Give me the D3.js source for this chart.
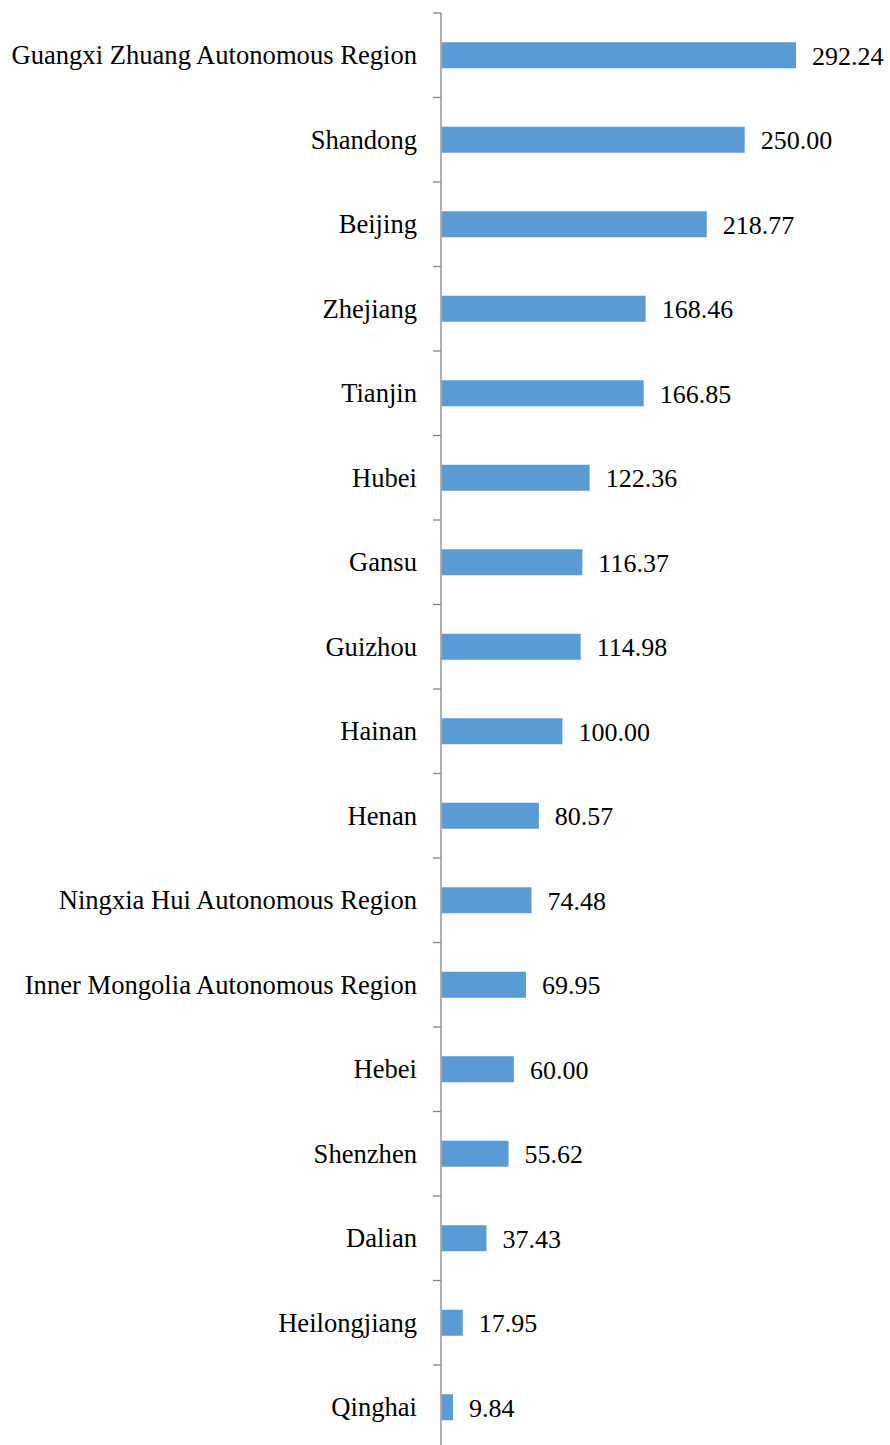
<!DOCTYPE html>
<html>
<head>
<meta charset="utf-8">
<script src="https://cdn.jsdelivr.net/npm/d3@7"></script>
<style>
  html, body { margin: 0; padding: 0; background: #fff; }
  svg { display: block; }
  text { font-family: "Liberation Serif", "Times New Roman", serif; fill: #000; }
</style>
</head>
<body>
<script>
const categories = [
  "Guangxi Zhuang Autonomous Region", "Shandong", "Beijing", "Zhejiang", "Tianjin",
  "Hubei", "Gansu", "Guizhou", "Hainan", "Henan",
  "Ningxia Hui Autonomous Region", "Inner Mongolia Autonomous Region", "Hebei",
  "Shenzhen", "Dalian", "Heilongjiang", "Qinghai"
];
const values = [292.24, 250.00, 218.77, 168.46, 166.85, 122.36, 116.37, 114.98, 100.00,
  80.57, 74.48, 69.95, 60.00, 55.62, 37.43, 17.95, 9.84];

const W = 890, H = 1445;
const axisX = 441, plotTop = 13, band = 84.5;
const barH = 26;
const fontSize = 26.6;

const svg = d3.select("body").append("svg").attr("width", W).attr("height", H);

const y = d3.scaleBand().domain(categories).range([plotTop, plotTop + band * categories.length]).padding(0);
const x = d3.scaleLinear().domain([0, 292.24]).range([axisX, 796]);

// axis line
svg.append("line")
  .attr("x1", axisX).attr("x2", axisX)
  .attr("y1", plotTop).attr("y2", H)
  .attr("stroke", "#868686").attr("stroke-width", 1.3);

// ticks at band boundaries
svg.selectAll("line.tick").data(categories).join("line")
  .attr("class", "tick")
  .attr("x1", axisX - 8).attr("x2", axisX)
  .attr("y1", d => y(d)).attr("y2", d => y(d))
  .attr("stroke", "#868686").attr("stroke-width", 1.3);

// bars
svg.selectAll("rect.bar").data(categories).join("rect")
  .attr("class", "bar")
  .attr("x", x(0) + 0.7)
  .attr("y", d => y(d) + (y.bandwidth() - barH) / 2)
  .attr("width", (d, i) => x(values[i]) - x(0) - 0.7)
  .attr("height", barH)
  .attr("fill", "#5B9BD5");

// category labels
svg.selectAll("text.cat").data(categories).join("text")
  .attr("class", "cat")
  .attr("x", axisX - 24)
  .attr("y", d => y(d) + y.bandwidth() / 2)
  .attr("dy", "0.34em")
  .attr("text-anchor", "end")
  .attr("font-size", fontSize)
  .text(d => d);

// value labels
svg.selectAll("text.val").data(categories).join("text")
  .attr("class", "val")
  .attr("x", (d, i) => x(values[i]) + 16)
  .attr("y", d => y(d) + y.bandwidth() / 2)
  .attr("dy", "0.36em")
  .attr("font-size", 26)
  .text((d, i) => values[i].toFixed(2));
</script>
</body>
</html>
